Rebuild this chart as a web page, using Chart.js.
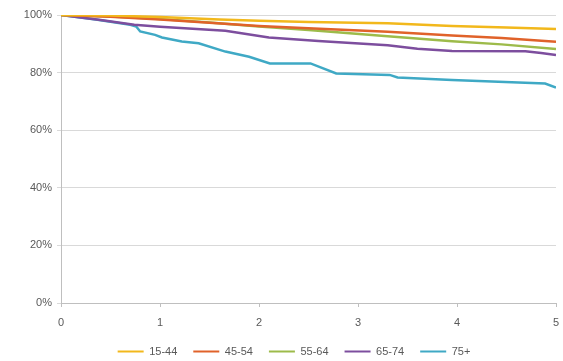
<!DOCTYPE html>
<html>
<head>
<meta charset="utf-8">
<script src="https://cdn.jsdelivr.net/npm/chart.js@4"></script>
<style>
  html, body { margin: 0; padding: 0; background: #fff; }
  #wrap { width: 563px; height: 361px; }
</style>
</head>
<body>
<div id="wrap"><canvas id="c" width="563" height="361"></canvas></div>
<script>
const seriesNames = ['15-44', '45-54', '55-64', '65-74', '75+'];
const seriesColors = ['#F2B81C', '#E0622A', '#9DBB4A', '#7D4E9E', '#3FA9C5'];

const times1544 = [0, 0.5, 1, 1.6, 2, 2.5, 3.3, 3.95, 4.5, 5];
const values1544 = [100, 99.8, 99.3, 98.4, 98.0, 97.6, 97.1, 96.2, 95.7, 95.1];

const times4554 = [0, 0.5, 1, 1.5, 2, 2.44, 3.3, 3.95, 4.45, 5];
const values4554 = [100, 99.4, 98.4, 97.3, 96.2, 95.5, 94.2, 92.9, 92.0, 90.7];

const times5564 = [0, 0.5, 1, 1.5, 2, 2.5, 3.3, 3.95, 4.45, 5];
const values5564 = [100, 99.5, 98.6, 97.4, 96.0, 94.8, 92.6, 90.9, 89.8, 88.2];

const times6574 = [0, 0.4, 0.74, 1, 1.66, 2.1, 2.6, 3.3, 3.6, 3.95, 4.69, 4.85, 5];
const values6574 = [100, 98.3, 96.6, 95.9, 94.5, 92.2, 91.0, 89.5, 88.3, 87.5, 87.4, 86.8, 86.1];

const times75 = [0, 0.35, 0.7, 0.76, 0.8, 0.95, 1.02, 1.22, 1.39, 1.66, 1.9, 2.11, 2.52, 2.78, 3.32, 3.4, 3.95, 4.62, 4.89, 5];
const values75 = [100, 98.4, 96.6, 96.0, 94.3, 93.1, 92.2, 90.8, 90.2, 87.3, 85.5, 83.2, 83.2, 79.7, 79.2, 78.3, 77.4, 76.6, 76.2, 74.8];

const xTicks = [0, 1, 2, 3, 4, 5];
const yTicks = [0, 20, 40, 60, 80, 100];

function pts(ts, vs) { return ts.map((t, i) => ({ x: t, y: vs[i] })); }

const allSeries = [
  pts(times1544, values1544),
  pts(times4554, values4554),
  pts(times5564, values5564),
  pts(times6574, values6574),
  pts(times75, values75)
];

const datasets = allSeries.map((d, i) => ({
  label: seriesNames[i],
  data: d,
  borderColor: seriesColors[i],
  backgroundColor: seriesColors[i],
  borderWidth: 2.5,
  pointRadius: 0,
  pointStyle: 'line',
  tension: 0,
  fill: false,
  order: i
}));

const tickFont = { family: 'Liberation Sans', size: 11 };

const legendShift = {
  id: 'legendShift',
  afterLayout(chart) {
    if (chart.legend) { chart.legend.left += 13; chart.legend.right += 13; }
  }
};

new Chart(document.getElementById('c'), {
  type: 'line',
  data: { datasets },
  plugins: [legendShift],
  options: {
    responsive: false,
    animation: false,
    layout: { padding: { top: 15, right: 1, bottom: -6, left: 0 } },
    plugins: {
      legend: {
        position: 'bottom',
        labels: {
          usePointStyle: true,
          pointStyle: 'line',
          pointStyleWidth: 26,
          padding: 16,
          color: '#595959',
          font: tickFont,
          generateLabels: chart => {
            const items = Chart.defaults.plugins.legend.labels.generateLabels(chart);
            items.forEach(it => { it.lineWidth = 2; });
            return items;
          }
        }
      },
      tooltip: { enabled: false }
    },
    scales: {
      x: {
        type: 'linear',
        min: 0,
        max: 5,
        afterBuildTicks: s => { s.ticks = xTicks.map(v => ({ value: v })); },
        afterFit: s => { s.height = 27; s.paddingRight = 7; s.paddingLeft = 0; },
        grid: { drawOnChartArea: false, drawTicks: true, tickLength: 4, color: '#BFBFBF' },
        border: { color: '#BFBFBF' },
        ticks: { color: '#595959', font: tickFont, padding: 9, maxRotation: 0 }
      },
      y: {
        min: 0,
        max: 100,
        afterBuildTicks: s => { s.ticks = yTicks.map(v => ({ value: v })); },
        afterFit: s => { s.width = 61; },
        grid: { color: '#D9D9D9', tickLength: 4 },
        border: { color: '#BFBFBF' },
        ticks: { color: '#595959', font: tickFont, padding: 5, callback: v => v + '%' }
      }
    }
  }
});
</script>
</body>
</html>
